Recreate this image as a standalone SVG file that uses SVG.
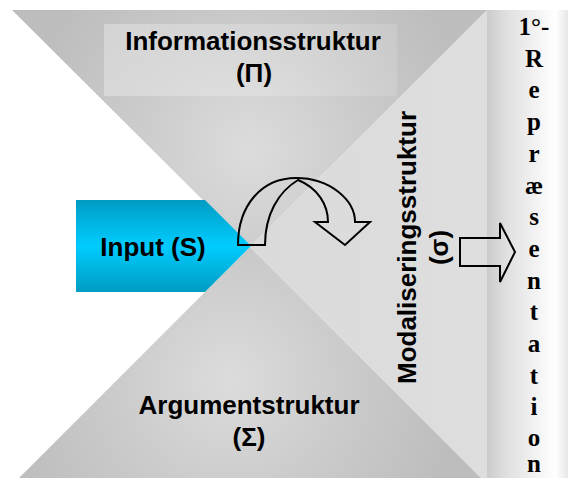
<svg xmlns="http://www.w3.org/2000/svg" width="568" height="478" viewBox="0 0 568 478">
<defs>
<radialGradient id="gTop" gradientUnits="userSpaceOnUse" cx="250" cy="150" r="230">
<stop offset="0" stop-color="#dcdcdc"/><stop offset="0.5" stop-color="#cbcbcb"/><stop offset="1" stop-color="#bdbdbd"/>
</radialGradient>
<radialGradient id="gBot" gradientUnits="userSpaceOnUse" cx="230" cy="380" r="230">
<stop offset="0" stop-color="#dcdcdc"/><stop offset="0.5" stop-color="#cbcbcb"/><stop offset="1" stop-color="#bdbdbd"/>
</radialGradient>
<linearGradient id="gRight" gradientUnits="userSpaceOnUse" x1="250" y1="0" x2="487" y2="0">
<stop offset="0" stop-color="#dadada"/><stop offset="1" stop-color="#dedede"/>
</linearGradient>
<linearGradient id="gStrip" gradientUnits="userSpaceOnUse" x1="487" y1="0" x2="568" y2="0">
<stop offset="0" stop-color="#cbcbcb"/><stop offset="0.25" stop-color="#e0e0e0"/><stop offset="0.85" stop-color="#ffffff"/><stop offset="1" stop-color="#e6e6e6"/>
</linearGradient>
<linearGradient id="gInput" x1="0" y1="0" x2="0" y2="1">
<stop offset="0" stop-color="#009cc2"/><stop offset="0.5" stop-color="#00ccff"/><stop offset="1" stop-color="#009cc2"/>
</linearGradient>
<linearGradient id="gBox" gradientUnits="userSpaceOnUse" x1="104" y1="0" x2="397" y2="0">
<stop offset="0" stop-color="#ffffff" stop-opacity="0.3"/><stop offset="1" stop-color="#ffffff" stop-opacity="0.12"/>
</linearGradient>
</defs>
<style>
.lbl{font-family:"Liberation Sans",Arial,sans-serif;font-weight:bold;font-size:26px;fill:#000;text-anchor:middle}
.ser{font-family:"Liberation Serif","Times New Roman",serif;font-weight:bold;font-size:25px;fill:#000;text-anchor:middle}
.ln{fill:none;stroke:#000;stroke-width:2;stroke-linejoin:miter}
</style>
<rect width="568" height="478" fill="#ffffff"/>
<g id="modalisering">
<polygon points="250,247 487,10 487,478 481,478" fill="url(#gRight)"/>
<g transform="translate(416,247.5) rotate(-90)">
<text class="lbl" x="0" y="0">Modaliseringsstruktur</text>
<text class="lbl" x="0" y="32">(σ)</text>
</g>
</g>
<g id="information">
<polygon points="12,10 487,10 250,247" fill="url(#gTop)"/>
<rect x="104" y="24" width="293" height="72" fill="url(#gBox)"/>
<text class="lbl" x="253" y="50">Informationsstruktur</text>
<text class="lbl" x="254" y="82">(Π)</text>
</g>
<g id="argument">
<polygon points="250,247 19,478 481,478" fill="url(#gBot)"/>
<text class="lbl" x="249" y="414">Argumentstruktur</text>
<text class="lbl" x="249" y="446">(Σ)</text>
</g>
<g id="input">
<polygon points="76,200 205,200 251,246 205,292 76,292" fill="url(#gInput)"/>
<text class="lbl" x="153" y="256">Input (S)</text>
</g>
<g id="representation">
<rect x="487" y="10" width="81" height="468" fill="url(#gStrip)"/>
<text class="ser" x="534" y="35">1°-</text>
<text class="ser" x="534" y="67">R</text>
<text class="ser" x="534" y="98">e</text>
<text class="ser" x="534" y="130">p</text>
<text class="ser" x="534" y="162">r</text>
<text class="ser" x="534" y="194">æ</text>
<text class="ser" x="534" y="225">s</text>
<text class="ser" x="534" y="257">e</text>
<text class="ser" x="534" y="289">n</text>
<text class="ser" x="534" y="320">t</text>
<text class="ser" x="534" y="352">a</text>
<text class="ser" x="534" y="384">t</text>
<text class="ser" x="534" y="415">i</text>
<text class="ser" x="534" y="446">o</text>
<text class="ser" x="534" y="472">n</text>
</g>
<g id="connectors">
<path class="ln" d="M238,245 C238,205 262,178 296,178 C330,178 355,200 355,222 L370,222 L345,245 L315,222 L328,222 C328,205 318,188 298,180 C278,192 265,215 265,245 Z"/>
<path class="ln" d="M460,238 L500,238 L500,223 L515,252 L500,282 L500,266 L460,266 Z"/>
</g>
</svg>
